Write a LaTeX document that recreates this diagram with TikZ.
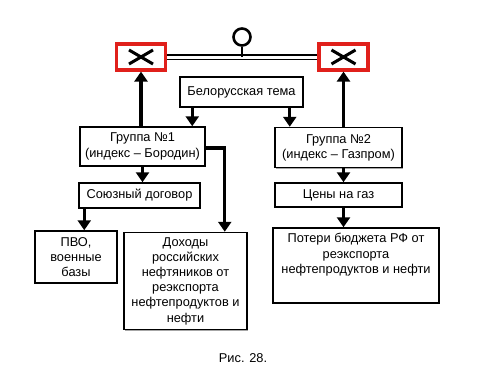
\documentclass[tikz,border=0pt]{standalone}
\usepackage{fontspec}
\setmainfont{Liberation Sans}
\usepackage{tikz}
\usetikzlibrary{arrows.meta, positioning, calc, shadows}
\definecolor{myred}{HTML}{E0201B}
\tikzset{
	box/.style={draw, line width=1.5pt, fill=white, align=center,
		font=\fontsize{12.8}{15.2}\selectfont, inner sep=2pt,
		drop shadow={shadow xshift=1pt, shadow yshift=-1pt, fill=gray!70, opacity=1}}
}
\tikzset{
	redbox/.style={draw=myred, line width=3.2pt, fill=white, minimum width=49pt, minimum height=26pt}
}
\tikzset{
	arr/.style={line width=3.2pt, -{Triangle[width=13pt,length=10pt]}}
}
\newcommand{\cross}[1]{\draw[line width=3pt] ([shift={(-12,-7)}]#1.center) -- ([shift={(12,7)}]#1.center)
	([shift={(-12,7)}]#1.center) -- ([shift={(12,-7)}]#1.center);}

\begin{document}
\begin{tikzpicture}[x=1pt, y=-1pt]
      \useasboundingbox (0,0) rectangle (500,375);
      % switch on top
      \node[redbox] (xl) at (141,57) {};
      \node[redbox] (xr) at (343.5,57) {};
      \cross{xl}
      \cross{xr}
      \draw[double, double distance=3pt, line width=1.7pt] (xl.east) -- (xr.west);
      \node[draw, circle, line width=2.6pt, minimum size=17pt, inner sep=0pt] (knob) at (242,37) {};
      \draw[line width=2.6pt] (knob.south) -- (knob.south |- xl.east);
      % boxes
      \node[box, minimum width=123pt, minimum height=30pt] (tema) at (241.5,92) {Белорусская тема};
      \node[box, minimum width=125pt, minimum height=39pt] (grp1) at (142.5,146.5) {Группа №1\\(индекс -- Бородин)};
      \node[box, minimum width=127pt, minimum height=40pt] (grp2) at (338.5,147.5) {Группа №2\\(индекс -- Газпром)};
      \node[box, minimum width=121pt, minimum height=25pt] (soyuz) at (139.5,195.5) {Союзный договор};
      \node[box, minimum width=127pt, minimum height=24pt] (tseny) at (338.5,195) {Цены на газ};
      \node[box, minimum width=82pt, minimum height=52pt] (pvo) at (76,257) {ПВО,\\военные\\базы};
      \node[box, minimum width=123pt, minimum height=97pt] (dokh) at (185.5,281) {Доходы\\российских\\нефтяников от\\реэкспорта\\нефтепродуктов и\\нефти};
      \node[box, minimum width=166pt, minimum height=75pt] (poteri) at (356,265.5)
        {\begin{minipage}[c][64pt][t]{160pt}\centering Потери бюджета РФ от\\реэкспорта\\нефтепродуктов и нефти\end{minipage}};
      % arrows
      \draw[arr] ([xshift=13pt]tema.south west) -- ([xshift=13pt]tema.south west |- grp1.north);
      \draw[arr] ([xshift=-14pt]tema.south east) -- ([xshift=-14pt]tema.south east |- grp2.north);
      \draw[arr] (grp1.north -| xl) -- (xl.south);
      \draw[arr] (grp2.north -| xr) -- (xr.south);
      \draw[arr] (grp1.south) -- (grp1.south |- soyuz.north);
      \draw[arr] ([xshift=6pt]soyuz.south west) -- ([xshift=6pt]soyuz.south west |- pvo.north);
      \draw[arr] ([yshift=-1.5pt]grp1.east) -| ([xshift=-23pt]dokh.north east);
      \draw[arr] (grp2.south -| xr) -- (tseny.north -| xr);
      \draw[arr] (tseny.south -| xr) -- (poteri.north -| xr);
      % caption
      \node[font=\fontsize{12.8}{14}\selectfont] (cap) at (243,358) {Рис. 28.};
\end{tikzpicture}
\end{document}
